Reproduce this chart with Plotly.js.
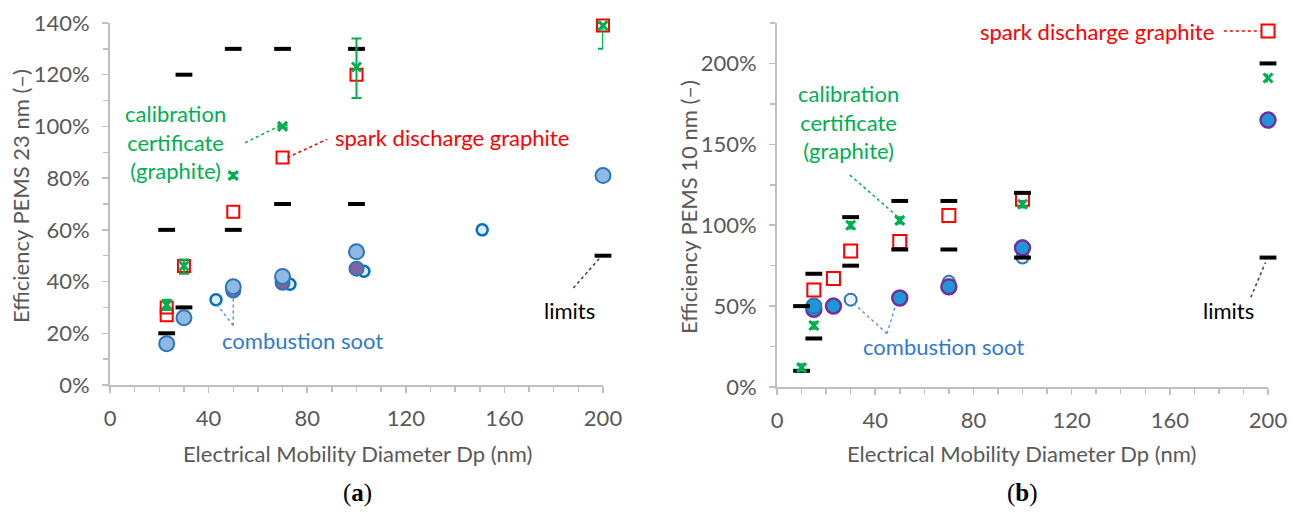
<!DOCTYPE html>
<html><head><meta charset="utf-8">
<script src="https://cdn.plot.ly/plotly-3.0.1.min.js"></script>
<style>html,body{margin:0;padding:0;background:#fff}</style>
</head><body><div id="chart" style="width:1297px;height:512px"></div>
<script>
// ---------- Panel (a): Efficiency PEMS 23 nm ----------
const a_limits_x = [23, 23, 30, 30, 50, 50, 70, 70, 100, 100, 200];
const a_limits_y = [60, 20, 120, 30, 130, 60, 130, 70, 130, 70, 50];
const a_calib_x = [23, 30, 50, 70, 100, 200];
const a_calib_y = [31, 46, 81, 100, 123, 139];
const a_calib_err_plus = [2, 2.5, 1, 0.5, 11, 1];
const a_calib_err_minus = [2, 3, 1, 0.5, 12, 9];
const a_spark_x = [23, 23, 30, 50, 70, 100, 200];
const a_spark_y = [30, 27, 46, 67, 88, 120, 139];
const a_soot_x = [23, 30, 50, 70, 100, 200];
const a_soot_y = [16, 26, 38, 42, 51.5, 81];
const a_soot_purple_x = [50, 70, 100];
const a_soot_purple_y = [36.5, 39.5, 45];
const a_soot_open_x = [43, 73, 103, 151];
const a_soot_open_y = [33, 39, 44, 60];

// ---------- Panel (b): Efficiency PEMS 10 nm ----------
const b_limits_x = [10, 10, 15, 15, 30, 30, 50, 50, 70, 70, 100, 100, 200, 200];
const b_limits_y = [50, 10, 70, 30, 105, 75, 115, 85, 115, 85, 120, 80, 200, 80];
const b_calib_x = [10, 15, 30, 50, 100, 200];
const b_calib_y = [12, 38, 100, 103, 113, 191];
const b_calib_err = [2, 2, 2, 2, 2, 2];
const b_spark_x = [15, 23, 30, 50, 70, 100, 200];
const b_spark_y = [60, 67, 84, 90, 106, 116, 220];
const b_soot_x = [15, 23, 50, 70, 100, 200];
const b_soot_y = [48, 50, 55, 62, 86, 165];
const b_soot_blue_x = [15];
const b_soot_blue_y = [50];
const b_soot_open_x = [30, 70, 100];
const b_soot_open_y = [54, 65, 80];

const FONT = 'Lato, "Open Sans", sans-serif';
const FS = 22;
const GREEN = '#00b050', RED = '#ff0000', BLUE = '#2e75b6', LBLUE = '#5b9bd5';
const AX = '#bfbfbf', TXT = '#595959';

function sc(x, y, xa, ya, marker, extra) {
  return Object.assign({type: 'scatter', mode: 'markers', x: x, y: y, xaxis: xa, yaxis: ya,
    marker: marker, cliponaxis: false, hoverinfo: 'x+y', showlegend: false}, extra || {});
}

const traces = [
  // panel a
  sc(a_soot_open_x, a_soot_open_y, 'x', 'y', {symbol: 'circle', size: 11, color: '#deebf7', line: {color: '#0070c0', width: 2.5}}),
  sc(a_soot_purple_x, a_soot_purple_y, 'x', 'y', {symbol: 'circle', size: 14, color: '#8064a2', line: {color: BLUE, width: 2}}),
  sc(a_soot_x, a_soot_y, 'x', 'y', {symbol: 'circle', size: 15, color: '#8db9e4', line: {color: BLUE, width: 2}}),
  sc(a_spark_x, a_spark_y, 'x', 'y', {symbol: 'square-open', size: 12, color: RED, line: {color: RED, width: 2}}),
  sc(a_limits_x, a_limits_y, 'x', 'y', {symbol: 'line-ew', size: 12, color: '#000', line: {color: '#000', width: 4}}),
  sc(a_calib_x, a_calib_y, 'x', 'y', {symbol: 'x-thin-open', size: 9, color: GREEN, line: {color: GREEN, width: 3}},
     {error_y: {type: 'data', symmetric: false, array: a_calib_err_plus, arrayminus: a_calib_err_minus, color: GREEN, thickness: 2, width: 5}}),
  // panel b
  sc(b_soot_open_x, b_soot_open_y, 'x2', 'y2', {symbol: 'circle', size: 12, color: '#eaf2fb', line: {color: BLUE, width: 2}}),
  sc(b_soot_x, b_soot_y, 'x2', 'y2', {symbol: 'circle', size: 15, color: '#1f96d8', line: {color: '#7030a0', width: 2.5}}),
  sc(b_soot_blue_x, b_soot_blue_y, 'x2', 'y2', {symbol: 'circle', size: 15, color: '#1f96d8', line: {color: BLUE, width: 2}}),
  sc(b_spark_x, b_spark_y, 'x2', 'y2', {symbol: 'square-open', size: 13, color: RED, line: {color: RED, width: 2}}),
  sc(b_limits_x, b_limits_y, 'x2', 'y2', {symbol: 'line-ew', size: 12, color: '#000', line: {color: '#000', width: 4}}),
  sc(b_calib_x, b_calib_y, 'x2', 'y2', {symbol: 'x-thin-open', size: 9, color: GREEN, line: {color: GREEN, width: 3}},
     {error_y: {type: 'data', array: b_calib_err, color: GREEN, thickness: 2, width: 4}})
];

const W = 1297, H = 512;
const px = v => v / W, py = v => (H - v) / H;

function baseAxis(extra) {
  return Object.assign({
    showgrid: false, zeroline: false, showline: true, linecolor: AX, linewidth: 2,
    ticks: 'outside', ticklen: 6, tickwidth: 1.5, tickcolor: AX,
    tickfont: {family: FONT, size: FS, color: TXT}, fixedrange: true
  }, extra);
}
function overAxis(extra) {
  return Object.assign({
    showgrid: false, zeroline: false, showline: false, showticklabels: false,
    ticks: 'inside', ticklen: 7, tickwidth: 1.5, tickcolor: AX, fixedrange: true
  }, extra);
}
function txt(xref, yref, x, y, text, color, extra) {
  return Object.assign({xref: xref, yref: yref, x: x, y: y, text: text, showarrow: false,
    xanchor: 'center', yanchor: 'middle', font: {family: FONT, size: FS, color: color}}, extra || {});
}

const layout = {
  width: W, height: H, margin: {l: 0, r: 0, t: 0, b: 0},
  paper_bgcolor: '#fff', plot_bgcolor: 'rgba(0,0,0,0)', showlegend: false,
  font: {family: FONT},
  xaxis: baseAxis({domain: [px(110), px(603)], range: [0, 200], tick0: 0, dtick: 40, anchor: 'y',
    minor: {dtick: 10, ticks: 'outside', ticklen: 5, tickcolor: AX, tickwidth: 1.5}, ticklabelstandoff: 7}),
  yaxis: baseAxis({domain: [py(385), py(23)], range: [0, 140], tick0: 0, dtick: 20, ticksuffix: '%', anchor: 'x',
    minor: {dtick: 10, ticks: 'outside', ticklen: 5, tickcolor: AX, tickwidth: 1.5}, ticklabelstandoff: 8}),
  xaxis2: baseAxis({domain: [px(777), px(1268)], range: [0, 200], tick0: 0, dtick: 40, anchor: 'y2',
    minor: {dtick: 10, ticks: 'outside', ticklen: 5, tickcolor: AX, tickwidth: 1.5}, ticklabelstandoff: 7}),
  yaxis2: baseAxis({domain: [py(387), py(23)], range: [0, 225], tick0: 0, dtick: 50, ticksuffix: '%', anchor: 'x2',
    minor: {dtick: 25, ticks: 'outside', ticklen: 5, tickcolor: AX, tickwidth: 1.5}, ticklabelstandoff: 8}),
  xaxis3: overAxis({overlaying: 'x', matches: 'x', anchor: 'y', side: 'bottom', tick0: 0, dtick: 40}),
  yaxis3: overAxis({overlaying: 'y', matches: 'y', anchor: 'x', side: 'left', tick0: 0, dtick: 20}),
  xaxis4: overAxis({overlaying: 'x2', matches: 'x2', anchor: 'y2', side: 'bottom', tick0: 0, dtick: 40}),
  yaxis4: overAxis({overlaying: 'y2', matches: 'y2', anchor: 'x2', side: 'left', tick0: 0, dtick: 50}),
  shapes: [
    {type: 'line', xref: 'x', yref: 'y', x0: 54.8, y0: 93.7, x1: 69, y1: 100.3, line: {color: GREEN, width: 1.5, dash: 'dot'}},
    {type: 'line', xref: 'x', yref: 'y', x0: 72, y0: 88, x1: 88, y1: 95, line: {color: RED, width: 1.5, dash: 'dot'}},
    {type: 'line', xref: 'x', yref: 'y', x0: 50, y0: 23, x1: 43.4, y1: 31, line: {color: LBLUE, width: 1.5, dash: 'dot'}},
    {type: 'line', xref: 'x', yref: 'y', x0: 50, y0: 23, x1: 50, y1: 35, line: {color: LBLUE, width: 1.5, dash: 'dot'}},
    {type: 'line', xref: 'x', yref: 'y', x0: 188, y0: 37.5, x1: 199, y1: 49.5, line: {color: '#404040', width: 1.5, dash: 'dot'}},
    {type: 'line', xref: 'x2', yref: 'y2', x0: 29.7, y0: 131, x1: 49, y1: 105.5, line: {color: GREEN, width: 1.5, dash: 'dot'}},
    {type: 'line', xref: 'x2', yref: 'y2', x0: 182, y0: 220, x1: 197, y1: 220, line: {color: RED, width: 1.5, dash: 'dot'}},
    {type: 'line', xref: 'x2', yref: 'y2', x0: 44.8, y0: 33, x1: 31, y1: 52, line: {color: LBLUE, width: 1.5, dash: 'dot'}},
    {type: 'line', xref: 'x2', yref: 'y2', x0: 44.8, y0: 33, x1: 48, y1: 49, line: {color: LBLUE, width: 1.5, dash: 'dot'}},
    {type: 'line', xref: 'x2', yref: 'y2', x0: 193, y0: 55.5, x1: 199, y1: 77, line: {color: '#404040', width: 1.5, dash: 'dot'}}
  ],
  annotations: [
    // panel a labels
    txt('x', 'y', 26.4, 94, 'calibration<br>certificate<br>(graphite)', GREEN),
    txt('x', 'y', 90.5, 95.6, 'spark discharge graphite', RED, {xanchor: 'left'}),
    txt('x', 'y', 78, 17.4, 'combustion soot', '#2e7bcf'),
    txt('x', 'y', 186.6, 29, 'limits', '#000'),
    // panel b labels
    txt('x2', 'y2', 29, 163.6, 'calibration<br>certificate<br>(graphite)', GREEN),
    txt('x2', 'y2', 179, 219.8, 'spark discharge graphite', RED, {xanchor: 'right'}),
    txt('x2', 'y2', 68, 25, 'combustion soot', '#2e7bcf'),
    txt('x2', 'y2', 184, 47.5, 'limits', '#000'),
    // axis titles
    txt('paper', 'paper', px(20), py(196), 'Efficiency PEMS 23 nm (\u2013)', TXT, {textangle: -90}),
    txt('paper', 'paper', px(688), py(207), 'Efficiency PEMS 10 nm (\u2013)', TXT, {textangle: -90}),
    txt('paper', 'paper', px(357), py(453), 'Electrical Mobility Diameter Dp (nm)', TXT),
    txt('paper', 'paper', px(1021), py(453), 'Electrical Mobility Diameter Dp (nm)', TXT),
    txt('paper', 'paper', px(357), py(493), '(<b>a</b>)', '#000',
        {font: {family: '"Liberation Serif", "DejaVu Serif", serif', size: 25, color: '#000'}}),
    txt('paper', 'paper', px(1022), py(493), '(<b>b</b>)', '#000',
        {font: {family: '"Liberation Serif", "DejaVu Serif", serif', size: 25, color: '#000'}})
  ]
};

Plotly.newPlot('chart', traces, layout, {staticPlot: true, displayModeBar: false});
</script>
</body></html>
